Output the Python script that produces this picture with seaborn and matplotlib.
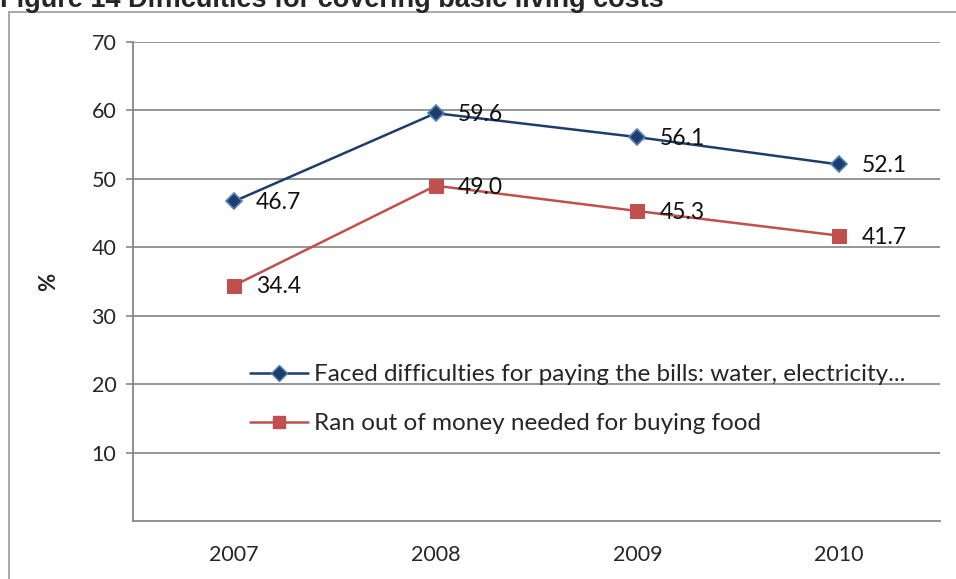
import matplotlib
matplotlib.use("Agg")
import matplotlib.pyplot as plt
import seaborn as sns
import pandas as pd
from matplotlib.patches import Rectangle
from matplotlib.lines import Line2D

years = ["2007", "2008", "2009", "2010"]
bills = [46.7, 59.6, 56.1, 52.1]
food = [34.4, 49.0, 45.3, 41.7]
series_names = ["Faced difficulties for paying the bills: water, electricity...",
                "Ran out of money needed for buying food"]
yticks = [10, 20, 30, 40, 50, 60, 70]
title = "Figure 14 Difficulties for covering basic living costs"

sns.set_theme(style="white")
plt.rcParams['font.family'] = ['Lato', 'DejaVu Sans']

fig = plt.figure(figsize=(9.56, 5.79), dpi=100)
ax = fig.add_axes([133/956, 1-521/579, (940-133)/956, (521-42)/579])

pos = list(range(len(years)))
df = pd.DataFrame({"pos": pos * 2,
                   "value": bills + food,
                   "series": [series_names[0]] * 4 + [series_names[1]] * 4})

navy = "#1F3D6B"
red = "#C0504D"
sns.lineplot(data=df[df.series == series_names[0]], x="pos", y="value", ax=ax,
             color=navy, lw=1.8, marker="D", markersize=8,
             markerfacecolor=navy, markeredgecolor="#4F81BD", markeredgewidth=1.2,
             legend=False)
sns.lineplot(data=df[df.series == series_names[1]], x="pos", y="value", ax=ax,
             color=red, lw=1.8, marker="s", markersize=10,
             markerfacecolor=red, markeredgecolor=red, legend=False)

for x, v in zip(pos, bills):
    ax.annotate(f"{v:.1f}", (x, v), xytext=(16, -1), textcoords="offset points",
                va="center", ha="left", fontsize=16.5, color="#111111")
for x, v in zip(pos, food):
    ax.annotate(f"{v:.1f}", (x, v), xytext=(16, -1), textcoords="offset points",
                va="center", ha="left", fontsize=16.5, color="#111111")

ax.set_xlim(-0.5, 3.5)
ax.set_ylim(0, 70)
ax.set_yticks(yticks)
ax.set_yticklabels([str(t) for t in yticks], fontsize=15.5)
ax.set_xticks(pos)
ax.set_xticklabels(years, fontsize=15.5)
ax.set_xticks([-0.5, 0.5, 1.5, 2.5, 3.5], minor=True)
ax.tick_params(axis="x", which="major", length=0, pad=17)
ax.tick_params(axis="x", which="minor", length=5.5, width=1.2, color="#888888", direction="out")
ax.tick_params(axis="y", length=5, width=1.2, color="#888888", direction="out", pad=7, left=True)
ax.grid(axis="y", color="#8C8C8C", lw=1.3)
ax.set_axisbelow(True)
for s in ["top", "right"]:
    ax.spines[s].set_visible(False)
for s in ["left", "bottom"]:
    ax.spines[s].set_color("#888888")
    ax.spines[s].set_linewidth(1.3)
ax.set_xlabel("")
ax.set_ylabel("%", fontsize=16, fontweight="bold")
ax.yaxis.set_label_coords(-(133 - 59) / 807, 0.5)

handles = [Line2D([], [], color=navy, lw=1.8, marker="D", markersize=8,
                  markerfacecolor=navy, markeredgecolor="#4F81BD"),
           Line2D([], [], color=red, lw=1.8, marker="s", markersize=9,
                  markerfacecolor=red, markeredgecolor=red)]
ax.legend(handles, series_names, loc="upper left", bbox_to_anchor=(0.145, 0.327),
          frameon=False, fontsize=17.5, handlelength=2.4, handletextpad=0.25,
          labelspacing=1.15, borderaxespad=0, borderpad=0)

fig.patches.append(Rectangle((9/956, -0.01), 1.0, 1 - 12/579 + 0.01, transform=fig.transFigure,
                             fill=False, edgecolor="#999999", lw=1.2))
fig.text(0, 1 - 7/579, title, fontsize=19.5, fontweight="bold", ha="left", va="baseline",
         family=["Liberation Sans", "DejaVu Sans"])

fig.savefig("out.png", dpi=100)
